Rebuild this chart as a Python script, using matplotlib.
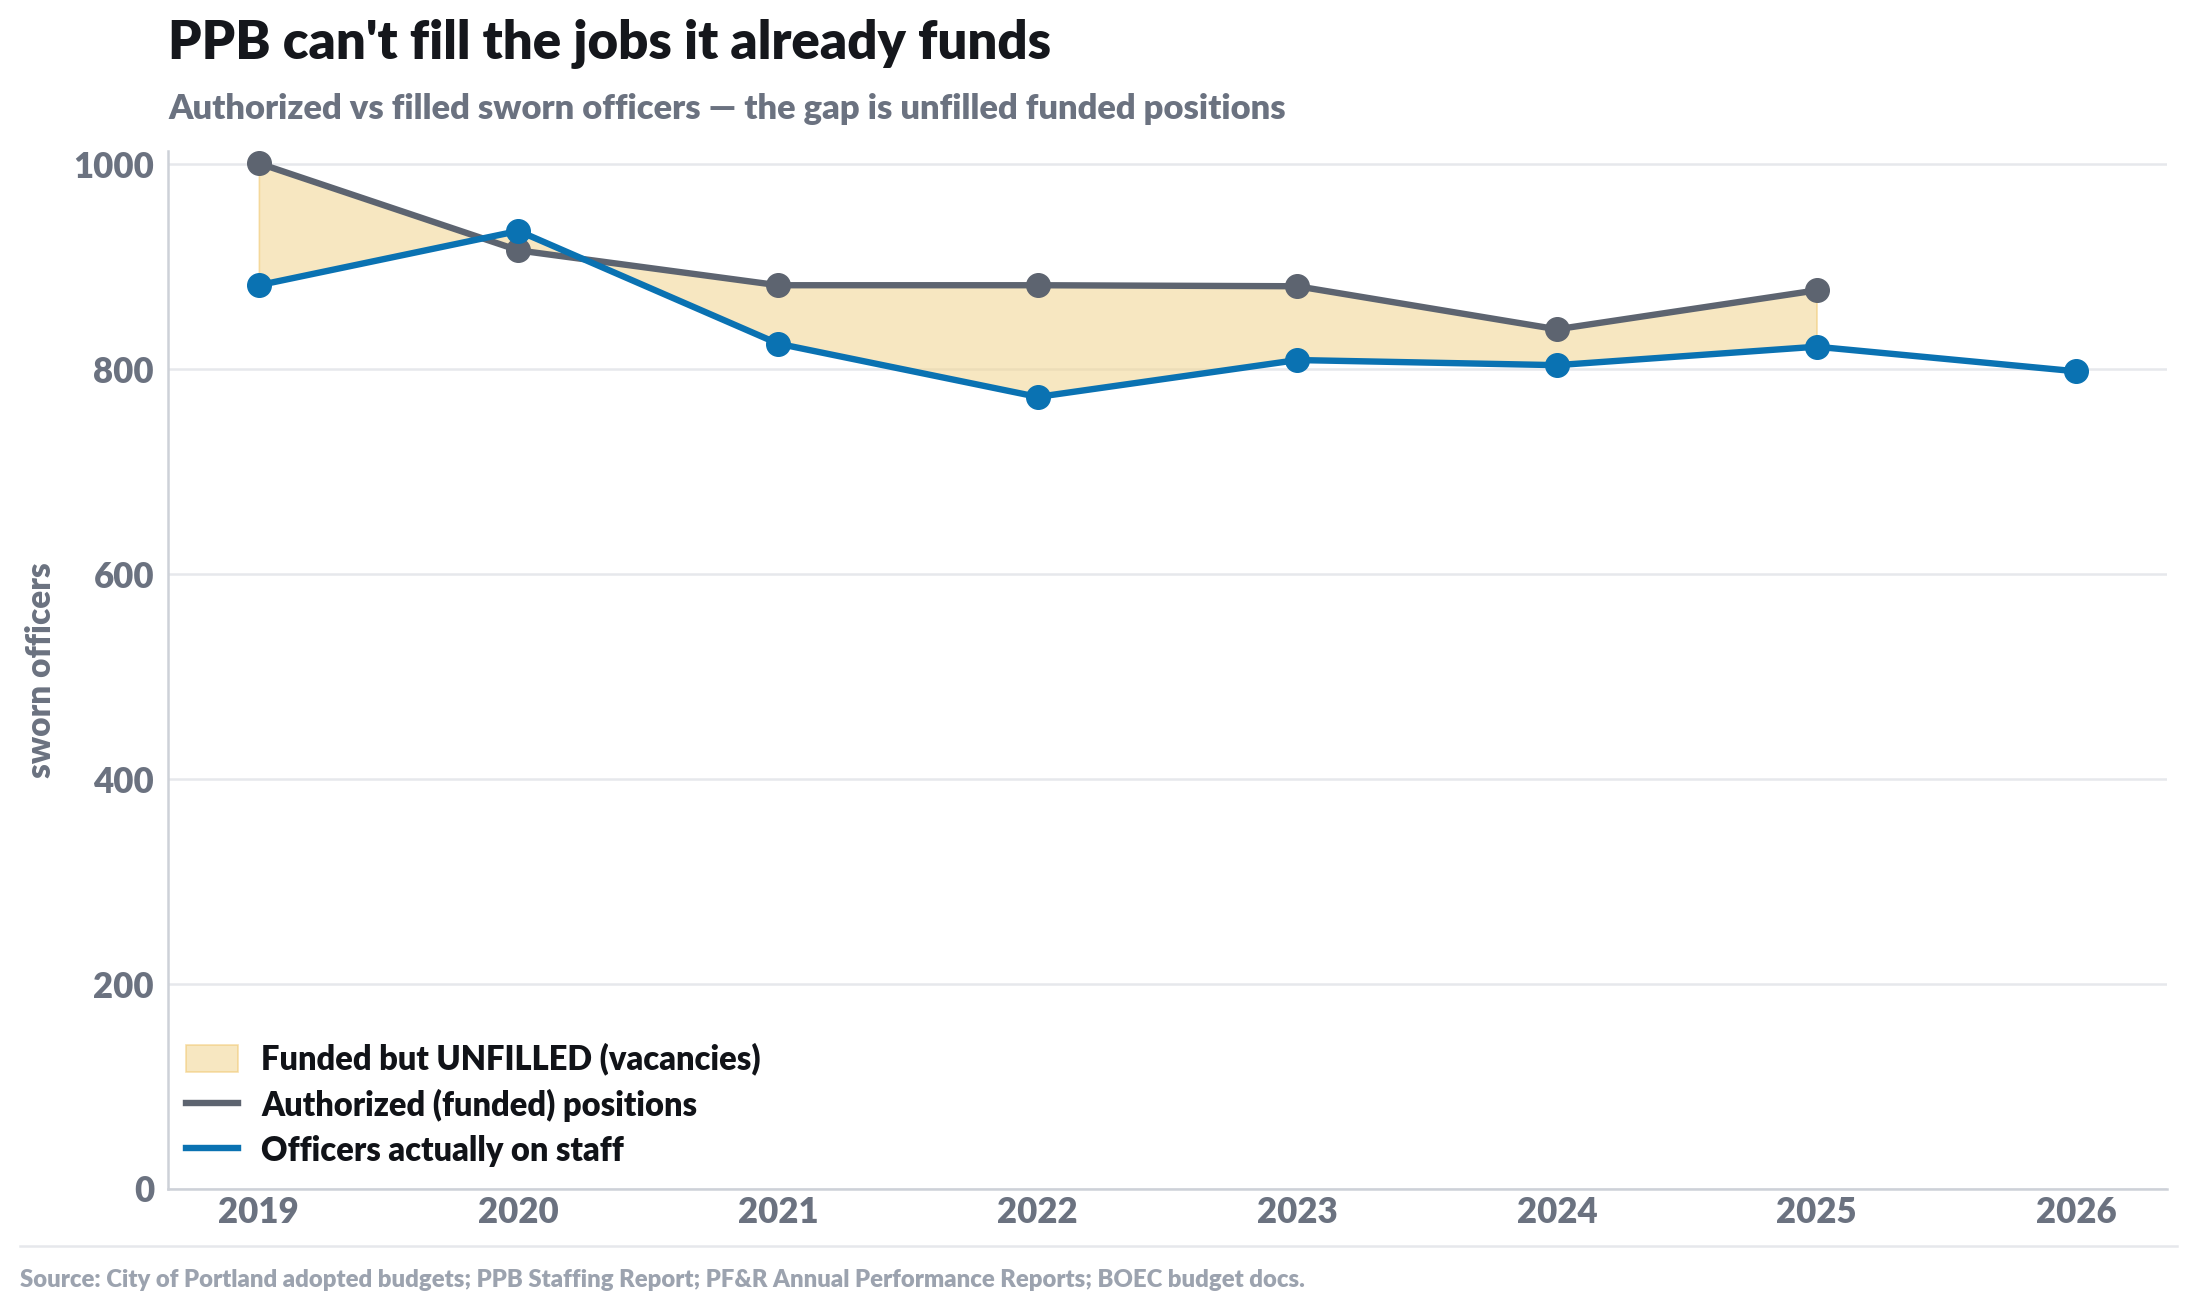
import matplotlib
matplotlib.use("Agg")
import matplotlib.pyplot as plt
from matplotlib.patches import Patch
from matplotlib.lines import Line2D

years_auth = [2019, 2020, 2021, 2022, 2023, 2024, 2025]
authorized = [1001, 916, 882, 882, 881, 839, 877]
years_filled = [2019, 2020, 2021, 2022, 2023, 2024, 2025, 2026]
filled = [882, 935, 825, 773, 809, 804, 822, 798]
xticks = [2019, 2020, 2021, 2022, 2023, 2024, 2025, 2026]
yticks = [0, 200, 400, 600, 800, 1000]

GRAY = "#5d6470"
BLUE = "#0a72b2"
FILL = "#f2d48e"
TXT = "#6b7280"
W = 'heavy'

plt.rcParams['font.family'] = ['Lato', 'DejaVu Sans']
plt.rcParams['font.weight'] = W

fig = plt.figure(figsize=(21.87, 13.06), dpi=100)
ax = fig.add_axes([168/2187, 1 - 1189/1306, (2167-168)/2187, (1189-151)/1306])

ax.fill_between(years_auth, authorized, filled[:len(years_auth)], color=FILL, alpha=0.55,
                edgecolor="#f0c66a", linewidth=1.2, zorder=1)
ax.plot(years_auth, authorized, color=GRAY, lw=4.6, marker='o', ms=17, zorder=3)
ax.plot(years_filled, filled, color=BLUE, lw=4.6, marker='o', ms=17, zorder=4)

ax.set_xlim(2018.65, 2026.35)
ax.set_ylim(0, 1013)
ax.set_xticks(xticks)
ax.set_xticklabels([str(x) for x in xticks])
ax.set_yticks(yticks)
ax.grid(axis='y', color='#e6e8ec', lw=1.8, zorder=0)
ax.set_axisbelow(True)
for s in ['top', 'right']:
    ax.spines[s].set_visible(False)
for s in ['left', 'bottom']:
    ax.spines[s].set_color('#cdd1d8')
    ax.spines[s].set_linewidth(1.8)
ax.tick_params(axis='both', length=0, labelsize=25, labelcolor=TXT)
ax.tick_params(axis='y', pad=10)
ax.tick_params(axis='x', pad=5)
for lab in ax.get_xticklabels() + ax.get_yticklabels():
    lab.set_fontweight(W)
ax.set_ylabel("sworn officers", fontsize=24, color=TXT, fontweight=W, labelpad=12)

handles = [Patch(facecolor=FILL, alpha=0.55, edgecolor="#f0c66a", lw=1.2),
           Line2D([0], [0], color=GRAY, lw=4.6),
           Line2D([0], [0], color=BLUE, lw=4.6)]
labels = ["Funded but UNFILLED (vacancies)", "Authorized (funded) positions", "Officers actually on staff"]
leg = ax.legend(handles, labels, loc='lower left', bbox_to_anchor=(0.0, 0.004), frameon=False,
                fontsize=23.5, handlelength=1.58, handleheight=0.9, labelspacing=0.4, handletextpad=0.73,
                borderaxespad=0.15)
for t in leg.get_texts():
    t.set_color('#111318')
    t.set_fontweight(W)

fig.text(168/2187, 1 - 44/1306, "PPB can't fill the jobs it already funds", fontsize=38,
         fontweight=W, color='#15171c', va='center', ha='left')
fig.text(168/2187, 1 - 109/1306, "Authorized vs filled sworn officers \u2014 the gap is unfilled funded positions",
         fontsize=24.8, fontweight=W, color=TXT, va='center', ha='left')

fig.add_artist(Line2D([20/2187, 2177/2187], [1 - 1246/1306, 1 - 1246/1306], color='#e6e8ec', lw=1.8))
fig.text(20/2187, 1 - 1280/1306,
         "Source: City of Portland adopted budgets; PPB Staffing Report; PF&R Annual Performance Reports; BOEC budget docs.",
         fontsize=17.2, fontweight=W, color='#9ca3af', va='center', ha='left')

fig.savefig("out.png", dpi=100, facecolor='white')
